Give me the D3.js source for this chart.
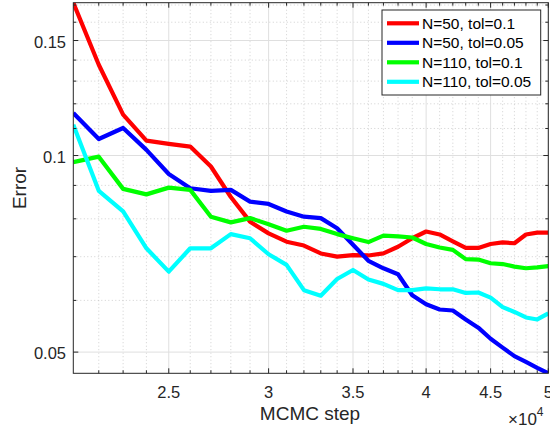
<!DOCTYPE html>
<html><head><meta charset="utf-8">
<script src="https://cdn.jsdelivr.net/npm/d3@7"></script>
<style>body{margin:0;background:#fff;} text{font-family:"Liberation Sans",Arial,sans-serif;}</style>
</head><body><svg id="c" width="550" height="429"></svg>
<script>
const steps = d3.range(21000, 50001, 1000);
const redVals   = [0.1714,0.1377,0.1155,0.1054,0.1042,0.1032,0.0962,0.0864,0.0792,0.0760,0.0738,0.0728,0.0708,0.0700,0.0704,0.0703,0.0708,0.0725,0.0747,0.0765,0.0757,0.0739,0.0722,0.0722,0.0732,0.0736,0.0734,0.0757,0.0762,0.0762];
const blueVals  = [0.1162,0.1060,0.1102,0.1020,0.0937,0.0891,0.0883,0.0886,0.0850,0.0843,0.0821,0.0806,0.0802,0.0774,0.0730,0.0690,0.0672,0.0658,0.0611,0.0592,0.0581,0.0579,0.0561,0.0545,0.0524,0.0508,0.0493,0.0483,0.0473,0.0464];
const greenVals = [0.0977,0.0996,0.0889,0.0872,0.0893,0.0886,0.0806,0.0790,0.0802,0.0785,0.0767,0.0778,0.0772,0.0758,0.0747,0.0737,0.0754,0.0752,0.0749,0.0732,0.0723,0.0717,0.0694,0.0693,0.0684,0.0682,0.0676,0.0672,0.0674,0.0677];
const cyanVals  = [0.1115,0.0883,0.0821,0.0721,0.0664,0.0721,0.0721,0.0758,0.0747,0.0706,0.0680,0.0622,0.0610,0.0647,0.0668,0.0646,0.0636,0.0622,0.0622,0.0626,0.0624,0.0624,0.0616,0.0617,0.0606,0.0586,0.0576,0.0565,0.0561,0.0573];
const seriesNames = ["N=50, tol=0.1","N=50, tol=0.05","N=110, tol=0.1","N=110, tol=0.05"];
const seriesColors = ["#ff0000","#0000ff","#00ff00","#00ffff"];
const xTickVals = [25000,30000,35000,40000,45000,50000];
const xTickLabels = ["2.5","3","3.5","4","4.5","5"];
const yTickVals = [0.05,0.1,0.15];
const yTickLabels = ["0.05","0.1","0.15"];
const xMinor = d3.range(22000, 50000, 1000).filter(v => v % 5000 !== 0);
const yMinor = [0.06,0.07,0.08,0.09,0.11,0.12,0.13,0.14,0.16,0.17];

const allSeries = [redVals, blueVals, greenVals, cyanVals];
const svg = d3.select("#c");
const L = 73.3, R = 548.3, T = 2.7, B = 373.3;
const allY = allSeries.flat();
const x = d3.scaleLog().domain([21000, 50000]).range([L, R]);
const y = d3.scaleLog().domain([d3.min(allY), d3.max(allY)]).range([B, T]);

const g = svg.append("g");
g.selectAll(".xm").data(xMinor).enter().append("line")
  .attr("x1", d=>x(d)).attr("x2", d=>x(d)).attr("y1", T).attr("y2", B)
  .attr("stroke", "#bdbdbd").attr("stroke-width", 0.7).attr("stroke-dasharray", "1,2.5");
g.selectAll(".ym").data(yMinor.filter(v=>y(v)>=T)).enter().append("line")
  .attr("y1", d=>y(d)).attr("y2", d=>y(d)).attr("x1", L).attr("x2", R)
  .attr("stroke", "#bdbdbd").attr("stroke-width", 0.7).attr("stroke-dasharray", "1,2.5");
g.selectAll(".xg").data(xTickVals).enter().append("line")
  .attr("x1", d=>x(d)).attr("x2", d=>x(d)).attr("y1", T).attr("y2", B)
  .attr("stroke", "#dfdfdf").attr("stroke-width", 1);
g.selectAll(".yg").data(yTickVals).enter().append("line")
  .attr("y1", d=>y(d)).attr("y2", d=>y(d)).attr("x1", L).attr("x2", R)
  .attr("stroke", "#dfdfdf").attr("stroke-width", 1);

const line = d3.line().x((d,i)=>x(steps[i])).y(d=>y(d));
svg.append("clipPath").attr("id","cp").append("rect")
  .attr("x", L).attr("y", T).attr("width", R-L).attr("height", B-T);
allSeries.forEach((vals, k) => {
  svg.append("path").datum(vals).attr("d", line)
    .attr("fill","none").attr("stroke", seriesColors[k]).attr("stroke-width", 4.2)
    .attr("stroke-linejoin","round").attr("clip-path","url(#cp)");
});

const axCol = "#262626";
function ticks(vals, len, pos) {
  vals.forEach(v => {
    if (pos === "x") {
      const xx = x(v);
      svg.append("line").attr("x1",xx).attr("x2",xx).attr("y1",B).attr("y2",B-len).attr("stroke",axCol);
      svg.append("line").attr("x1",xx).attr("x2",xx).attr("y1",T).attr("y2",T+len).attr("stroke",axCol);
    } else {
      const yy = y(v);
      if (yy < T) return;
      svg.append("line").attr("y1",yy).attr("y2",yy).attr("x1",L).attr("x2",L+len).attr("stroke",axCol);
      svg.append("line").attr("y1",yy).attr("y2",yy).attr("x1",R).attr("x2",R-len).attr("stroke",axCol);
    }
  });
}
ticks(xTickVals, 5, "x"); ticks(xMinor, 3, "x");
ticks(yTickVals, 5, "y"); ticks(yMinor, 3, "y");
svg.append("rect").attr("x",L).attr("y",T).attr("width",R-L).attr("height",B-T)
  .attr("fill","none").attr("stroke",axCol).attr("stroke-width",1);

svg.selectAll(".xl").data(xTickVals).enter().append("text")
  .attr("x", d=>x(d)).attr("y", 398).attr("text-anchor","middle")
  .attr("font-size", 16.5).attr("fill", axCol).text((d,i)=>xTickLabels[i]);
svg.selectAll(".yl").data(yTickVals).enter().append("text")
  .attr("x", 66).attr("y", d=>y(d)+7.3).attr("text-anchor","end")
  .attr("font-size", 16.5).attr("fill", axCol).text((d,i)=>yTickLabels[i]);

svg.append("text").attr("x", 310).attr("y", 420).attr("text-anchor","middle")
  .attr("font-size", 19).attr("fill", axCol).text("MCMC step");
svg.append("text").attr("transform","translate(25.5,188) rotate(-90)").attr("text-anchor","middle")
  .attr("font-size", 19).attr("fill", axCol).text("Error");
const ex = svg.append("text").attr("x", 508).attr("y", 425).attr("font-size", 17).attr("fill", axCol);
ex.append("tspan").text("\u00d710");
ex.append("tspan").attr("dy", -9).attr("font-size", 12).text("4");

const lg = svg.append("g");
lg.append("rect").attr("x",382).attr("y",10).attr("width",158.7).attr("height",85)
  .attr("fill","#fff").attr("stroke",axCol).attr("stroke-width",1);
seriesNames.forEach((n,k) => {
  const yy = 23.3 + k*19.5;
  lg.append("line").attr("x1",387).attr("x2",419).attr("y1",yy).attr("y2",yy)
    .attr("stroke",seriesColors[k]).attr("stroke-width",4.2);
  lg.append("text").attr("x",422).attr("y",yy+5.3).attr("font-size",15.5).attr("fill","#000").text(n);
});
</script></body></html>
